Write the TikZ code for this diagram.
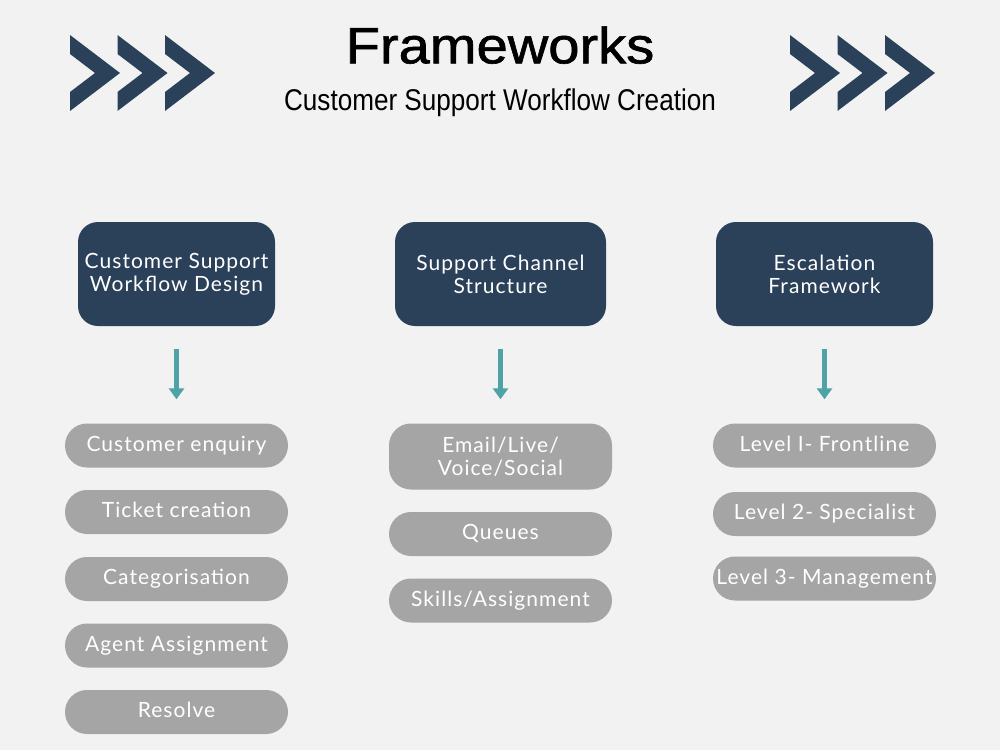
\documentclass[tikz,border=0pt]{standalone}
\usepackage{fontspec}
\setmainfont{Lato}
\newfontfamily\headfont{Liberation Sans}
\newfontfamily\titlefont{Liberation Sans}[FakeBold=1.2]
\newfontfamily\boxfont{Lato}[LetterSpace=5]
\usetikzlibrary{arrows.meta}
\definecolor{bg}{HTML}{F2F2F2}
\definecolor{navy}{HTML}{2B4159}
\definecolor{tealc}{HTML}{4DA3A5}
\definecolor{pillc}{HTML}{A5A5A5}
\begin{document}
\begin{tikzpicture}[x=1pt,y=-1pt,
  headbox/.style={fill=navy, rounded corners=20pt, minimum height=104pt, text=white,
    font=\boxfont\fontsize{21}{23}\selectfont, align=center, inner sep=0pt},
  pillbox/.style={fill=pillc, rounded corners=22pt, minimum width=223pt, minimum height=44pt,
    text=white, font=\boxfont\fontsize{21}{23}\selectfont, inner sep=0pt, text height=15pt, text depth=4pt},
  pilltwo/.style={fill=pillc, rounded corners=22pt, minimum width=223pt, minimum height=66pt,
    text=white, font=\boxfont\fontsize{21}{23}\selectfont, inner sep=0pt, align=center},
  arr/.style={draw=tealc, line width=4.5pt, -{Triangle[width=15pt,length=11pt]},
    shorten <=23pt, shorten >=24pt},
  chev/.style={fill=navy}]
\fill[bg] (0,0) rectangle (1000,750);
\useasboundingbox (0,0) rectangle (1000,750);

% chevrons
\foreach \x in {70,117.5,165,790,837.5,885}{
  \fill[chev] (\x,35) -- (\x+50,73) -- (\x,111) -- (\x,92) -- (\x+25,73) -- (\x,54) -- cycle;
}

% titles
\node[anchor=base, font=\titlefont\fontsize{51}{51}\selectfont] (title) at (500,63.3)
  {\scalebox{1.1}[1]{Frameworks}};
\node[anchor=base, font=\headfont\fontsize{30}{30}\selectfont] (subtitle) at (500,110)
  {\scalebox{0.87}[1]{Customer Support Workflow Creation}};

% header boxes
\node[headbox, minimum width=197pt] (h1) at (176.5,274) {Customer Support\\Workflow Design};
\node[headbox, minimum width=211pt] (h2) at (500.5,274) {Support Channel\\Structure};
\node[headbox, minimum width=217pt] (h3) at (824.5,274) {Escalation\\Framework};

% column 1
\node[pillbox] (a1) at (176.5,445.5) {Customer enquiry};
\node[pillbox] (a2) at (176.5,512) {Ticket creation};
\node[pillbox] (a3) at (176.5,579) {Categorisation};
\node[pillbox] (a4) at (176.5,645.5) {Agent Assignment};
\node[pillbox] (a5) at (176.5,712) {Resolve};

% column 2
\node[pilltwo] (b1) at (500.5,456.5) {Email/Live/\\Voice/Social};
\node[pillbox] (b2) at (500.5,534) {Queues};
\node[pillbox] (b3) at (500.5,600.5) {Skills/Assignment};

% column 3
\node[pillbox] (c1) at (824.5,445.5) {Level I- Frontline};
\node[pillbox] (c2) at (824.5,514) {Level 2- Specialist};
\node[pillbox] (c3) at (824.5,578.5) {Level 3- Management};

% arrows
\draw[arr] (h1.south) -- (a1.north);
\draw[arr] (h2.south) -- (b1.north);
\draw[arr] (h3.south) -- (c1.north);
\end{tikzpicture}
\end{document}
